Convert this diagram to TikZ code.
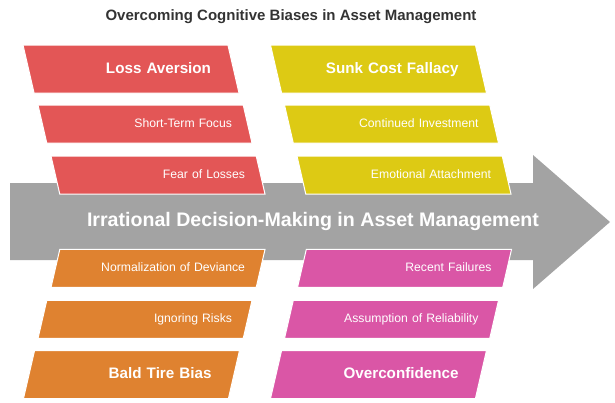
\documentclass[tikz,border=0pt]{standalone}
\usepackage{fontspec}
\setmainfont{Liberation Sans}
\usetikzlibrary{shapes.geometric, positioning}
\definecolor{lossred}{HTML}{E35656}
\definecolor{sunkyellow}{HTML}{DDCA14}
\definecolor{tireorange}{HTML}{DF8230}
\definecolor{overpink}{HTML}{DA56A6}
\definecolor{spinegray}{HTML}{A3A3A3}
\definecolor{titlegray}{HTML}{333333}

\begin{document}
\begin{tikzpicture}[
        x=1pt, y=-1pt,
        slantbox/.style = {trapezium, trapezium stretches body, draw=white, line width=1pt, inner xsep=0pt, align=right, text=white},
        upbox/.style = {slantbox, trapezium left angle=103, trapezium right angle=77},
        downbox/.style = {slantbox, trapezium left angle=77, trapezium right angle=103},
        headbox/.style = {minimum width=216pt, text height=11pt, text depth=3pt, inner ysep=17pt, text width=160pt, font=\fontsize{15.2}{18}\selectfont\bfseries},
        subbox/.style = {minimum width=214pt, text height=9pt, text depth=2.5pt, inner ysep=13.25pt, text width=174pt, font=\fontsize{12.2}{14}\selectfont}
    ]
        \useasboundingbox (0,0) rectangle (615,402);

        % Title
        \node (title) at (291,17) [font=\fontsize{15}{18}\selectfont\bfseries, text=titlegray] {Overcoming Cognitive Biases in Asset Management};

        % Spine arrow
        \fill [spinegray] (10,183) -- (533,183) -- (533,155) -- (610,222) -- (533,289) -- (533,260) -- (10,260) -- cycle;
        \node (spine) at (313,221) [font=\fontsize{19.6}{22}\selectfont\bfseries, text=white] {Irrational Decision-Making in Asset Management};

        % Upper left: loss aversion
        \node (loss) at (131,69) [upbox, headbox, fill=lossred] {Loss Aversion};
        \node (shortterm) [upbox, subbox, fill=lossred, below=11pt of loss, xshift=14pt] {Short-Term Focus};
        \node (fear) [upbox, subbox, fill=lossred, below=12pt of shortterm, xshift=13pt] {Fear of Losses};

        % Upper right: sunk cost
        \node (sunk) at (378.5,69) [upbox, headbox, fill=sunkyellow] {Sunk Cost Fallacy};
        \node (continued) [upbox, subbox, fill=sunkyellow, below=11pt of sunk, xshift=13pt] {Continued Investment};
        \node (attachment) [upbox, subbox, fill=sunkyellow, below=12pt of continued, xshift=12.5pt] {Emotional Attachment};

        % Lower left: bald tire
        \node (baldtire) at (131.5,374.5) [downbox, headbox, fill=tireorange] {Bald Tire Bias};
        \node (ignoring) [downbox, subbox, fill=tireorange, above=11pt of baldtire, xshift=13.5pt] {Ignoring Risks};
        \node (deviance) [downbox, subbox, fill=tireorange, above=12pt of ignoring, xshift=13pt] {Normalization of Deviance};

        % Lower right: overconfidence
        \node (overconf) at (378.5,374.5) [downbox, headbox, fill=overpink] {Overconfidence};
        \node (reliability) [downbox, subbox, fill=overpink, above=11pt of overconf, xshift=13pt] {Assumption of Reliability};
        \node (failures) [downbox, subbox, fill=overpink, above=12pt of reliability, xshift=13pt] {Recent Failures};

    \end{tikzpicture}
\end{document}
